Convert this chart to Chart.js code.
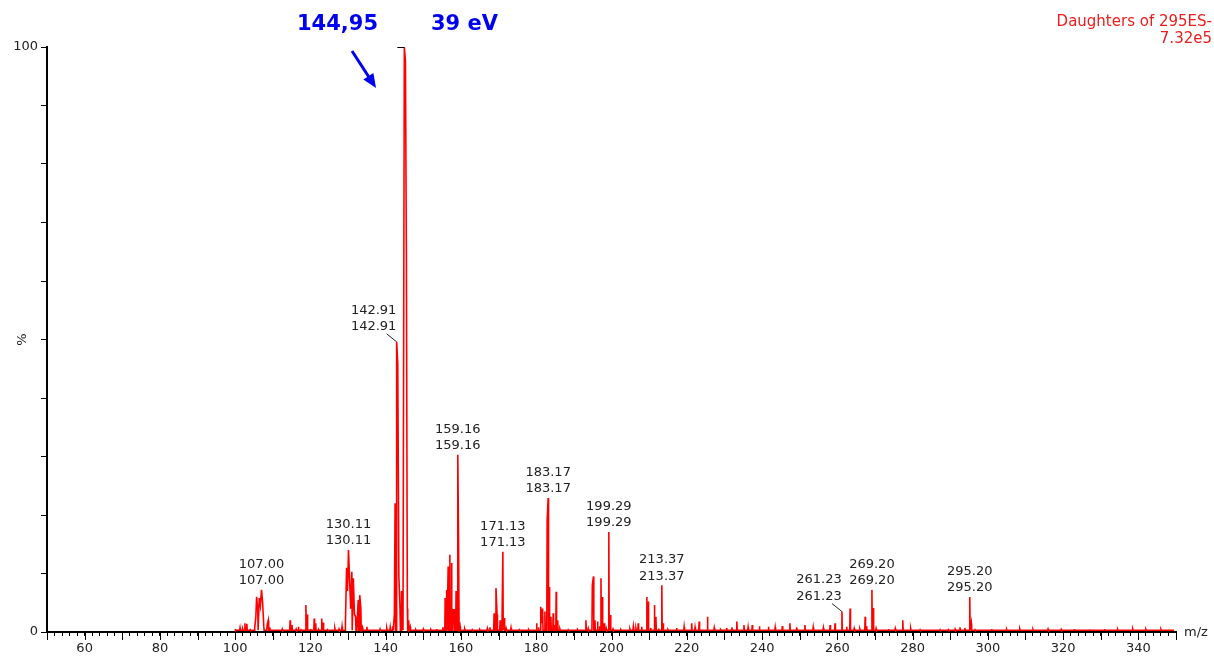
<!DOCTYPE html>
<html>
<head>
<meta charset="utf-8">
<title>Daughters of 295ES-</title>
<script src="https://cdn.jsdelivr.net/npm/chart.js@4"></script>
<style>
    html, body { margin: 0; padding: 0; background: #ffffff; }
    #spectrum { display: block; }
</style>
</head>
<body>
<canvas id="spectrum" width="1214" height="657"></canvas>

<script>
// m/z of each profile point (peaks and valleys)
const peakMz = [
    100.0, 101.3, 102.0, 102.6, 103.1, 104.0, 105.2, 105.5, 105.7, 106.0, 106.4, 106.7, 107.0, 107.3, 107.6,
    108.5, 108.8, 109.2, 111.0, 112.5, 114.6, 115.1, 116.2, 116.8, 117.5, 118.8, 119.2, 120.0, 121.0, 121.4,
    122.2, 123.0, 123.4, 124.5, 126.5, 127.6, 128.4, 129.3, 129.6, 129.85, 130.11, 130.4, 130.7, 131.0, 131.4,
    131.7, 132.0, 132.4, 132.7, 133.1, 133.4, 133.8, 135.0, 136.5, 138.5, 140.3, 141.2, 141.9, 142.3, 142.5,
    142.91, 143.2, 143.5, 143.8, 144.2, 144.5, 144.95, 145.25, 145.5, 145.75, 146.1, 146.5, 148.0, 150.0, 152.0,
    153.5, 155.2, 155.8, 156.2, 156.6, 157.05, 157.5, 157.9, 158.2, 158.7, 159.16, 159.4, 159.75, 161.0, 163.0,
    165.0, 167.0, 167.7, 168.8, 169.3, 169.6, 170.4, 170.9, 171.13, 171.5, 172.0, 173.3, 175.5, 178.0, 180.1,
    180.6, 181.2, 181.45, 181.7, 182.3, 182.9, 183.17, 183.5, 183.9, 184.5, 184.85, 185.3, 185.7, 186.3, 188.5,
    191.0, 193.2, 193.8, 194.9, 195.2, 195.6, 196.3, 196.8, 197.2, 197.6, 198.1, 198.6, 199.29, 199.7, 200.4,
    202.5, 204.9, 205.8, 206.5, 207.1, 208.0, 209.4, 209.8, 210.4, 211.4, 211.8, 212.5, 213.37, 213.7, 215.0,
    217.3, 219.3, 221.3, 222.2, 223.3, 225.5, 227.3, 229.0, 230.6, 232.0, 233.3, 235.2, 236.3, 237.4, 239.3,
    241.7, 243.5, 245.4, 247.4, 249.2, 251.4, 253.6, 256.3, 258.1, 259.4, 261.23, 262.5, 263.4, 264.5, 266.0,
    267.4, 267.8, 269.2, 269.6, 270.3, 273.6, 275.4, 277.4, 279.5, 282.0, 285.0, 287.3, 289.5, 291.3, 292.6,
    293.9, 295.2, 295.6, 296.6, 299.5, 301.0, 305.0, 308.5, 312.0, 316.0, 319.5, 323.0, 327.0, 331.0, 334.5,
    338.5, 342.0, 346.0, 349.5
];

// relative intensity (%) at each of those points
const peakPct = [
    0.5, 0.7, 0.5, 1.5, 1.4, 0.4, 0.8, 2.6, 6.0, 3.8, 5.8, 4.5, 7.2, 5.0, 1.0,
    1.2, 2.0, 0.8, 0.4, 0.5, 2.0, 1.2, 0.5, 0.9, 0.4, 4.6, 3.0, 0.5, 2.3, 1.5,
    0.4, 2.3, 1.6, 0.4, 0.6, 0.5, 0.9, 1.5, 11.0, 7.0, 14.0, 9.0, 4.0, 10.3, 9.2,
    3.0, 2.6, 1.5, 5.5, 6.3, 4.0, 0.8, 0.9, 0.4, 0.5, 0.6, 0.8, 1.0, 3.0, 22.0,
    49.6, 46.0, 9.5, 4.0, 7.0, 4.0, 100, 97.5, 64.0, 4.0, 2.0, 0.9, 0.4, 0.5, 0.4,
    0.5, 0.8, 5.8, 7.2, 11.2, 13.2, 11.8, 3.8, 3.8, 7.0, 30.3, 12.0, 1.0, 0.5, 0.4,
    0.4, 0.6, 0.8, 3.2, 7.5, 3.0, 2.0, 1.0, 13.7, 2.4, 0.6, 0.7, 0.4, 0.4, 1.5,
    0.8, 4.3, 1.5, 4.0, 3.5, 19.0, 22.9, 7.7, 2.6, 3.2, 1.2, 6.9, 2.0, 0.5, 0.4,
    0.4, 2.0, 0.6, 8.0, 9.5, 2.0, 1.8, 1.0, 9.2, 6.0, 1.5, 0.6, 17.1, 2.9, 0.5,
    0.4, 0.5, 0.9, 0.6, 1.5, 0.9, 6.0, 5.2, 0.7, 4.6, 2.6, 0.6, 8.0, 1.5, 0.4,
    0.7, 0.9, 1.5, 0.8, 1.8, 2.6, 0.7, 0.4, 0.7, 0.8, 1.8, 1.2, 0.8, 1.2, 1.0,
    0.9, 0.8, 1.0, 1.5, 0.8, 1.2, 0.8, 0.7, 1.2, 1.5, 3.5, 0.9, 4.0, 0.6, 0.5,
    2.6, 1.0, 7.2, 4.1, 0.6, 0.5, 0.6, 2.0, 0.6, 0.4, 0.4, 0.4, 0.4, 0.5, 0.8,
    0.7, 6.0, 1.5, 0.4, 0.3, 0.5, 0.45, 0.5, 0.45, 0.5, 0.45, 0.5, 0.45, 0.5, 0.45,
    0.5, 0.45, 0.45, 0.3
];

// level of the trace between peaks
const baselinePct = 0.3;

// peaks that carry an m/z annotation
const labelMz = [107.00, 130.11, 142.91, 159.16, 171.13, 183.17, 199.29, 213.37, 261.23, 269.20, 295.20];

// axis ticks
const yTickLabels = [0, 100];
const xMin = 50;
const xMax = 350;

document.addEventListener("DOMContentLoaded", function () {

    const FONT = "'DejaVu Sans', Verdana, sans-serif";

    // =========================
    // Build the profile trace
    // =========================
    // the trace drops to the baseline wherever two read points are apart
    const trace = [];
    for (let i = 0; i < peakMz.length; i++) {
        if (i > 0 && peakMz[i] - peakMz[i - 1] > 0.32) {
            trace.push({ x: peakMz[i - 1] + 0.1, y: baselinePct });
            trace.push({ x: peakMz[i] - 0.1, y: baselinePct });
        }
        trace.push({ x: peakMz[i], y: peakPct[i] });
    }

    // =========================
    // Annotations, ticks and titles
    // =========================
    const overlay = {
        id: "overlay",
        afterDraw(chart) {
            const ctx = chart.ctx;
            const x = chart.scales.x;
            const y = chart.scales.y;
            const area = chart.chartArea;

            ctx.save();

            // longer ticks every 10 on the m/z axis
            ctx.strokeStyle = "#000";
            ctx.lineWidth = 1;
            ctx.beginPath();
            for (let v = xMin; v <= xMax; v += 10) {
                const px = Math.round(x.getPixelForValue(v)) + 0.5;
                ctx.moveTo(px, area.bottom + 1);
                ctx.lineTo(px, area.bottom + 8);
            }
            ctx.stroke();

            // axis name
            ctx.fillStyle = "#222";
            ctx.font = "13px " + FONT;
            ctx.textAlign = "left";
            ctx.textBaseline = "middle";
            ctx.fillText("m/z", area.right + 8, area.bottom + 1);

            // peak labels
            ctx.font = "13px " + FONT;
            ctx.textAlign = "center";
            ctx.textBaseline = "middle";
            labelMz.forEach(function (m) {
                const idx = peakMz.findIndex(v => Math.abs(v - m) < 0.001);
                const px = x.getPixelForValue(m);
                const py = y.getPixelForValue(peakPct[idx]);
                const txt = m.toFixed(2);
                let tx = px;
                let ty = py - 9;
                if (m === 142.91 || m === 261.23) {
                    // label moved aside with a leader line
                    tx = px - 23;
                    ty = py - 15;
                    ctx.strokeStyle = "#222";
                    ctx.lineWidth = 1;
                    ctx.beginPath();
                    ctx.moveTo(px - 10, py - 8);
                    ctx.lineTo(px, py);
                    ctx.stroke();
                }
                ctx.fillStyle = "#222";
                ctx.fillText(txt, tx, ty - 16.5);
                ctx.fillText(txt, tx, ty);
            });

            // small cap on the base peak
            const basePx = x.getPixelForValue(144.95);
            const capY = Math.round(y.getPixelForValue(100)) + 0.5;
            ctx.strokeStyle = "#000";
            ctx.lineWidth = 1;
            ctx.beginPath();
            ctx.moveTo(basePx - 7, capY);
            ctx.lineTo(basePx, capY);
            ctx.stroke();

            // header, top right
            ctx.fillStyle = "#ee1c1c";
            ctx.font = "15px " + FONT;
            ctx.textAlign = "right";
            ctx.fillText("Daughters of 295ES-", 1212, 22);
            ctx.fillText("7.32e5", 1212, 39);

            // blue note over the base peak
            ctx.fillStyle = "#0000f0";
            ctx.font = "bold 21px " + FONT;
            ctx.textAlign = "left";
            ctx.fillText("144,95", 297, 25);
            ctx.fillText("39 eV", 431, 25);

            const ax0 = 352, ay0 = 51, ax1 = 376, ay1 = 88;
            const ang = Math.atan2(ay1 - ay0, ax1 - ax0);
            ctx.strokeStyle = "#0000f0";
            ctx.lineWidth = 3;
            ctx.beginPath();
            ctx.moveTo(ax0, ay0);
            ctx.lineTo(ax1 - 8 * Math.cos(ang), ay1 - 8 * Math.sin(ang));
            ctx.stroke();
            ctx.beginPath();
            ctx.moveTo(ax1, ay1);
            ctx.lineTo(ax1 - 14 * Math.cos(ang) + 6 * Math.sin(ang), ay1 - 14 * Math.sin(ang) - 6 * Math.cos(ang));
            ctx.lineTo(ax1 - 14 * Math.cos(ang) - 6 * Math.sin(ang), ay1 - 14 * Math.sin(ang) + 6 * Math.cos(ang));
            ctx.closePath();
            ctx.fill();

            ctx.restore();
        }
    };

    // =========================
    // Spectrum chart
    // =========================
    const canvas = document.getElementById("spectrum");

    new Chart(canvas, {

        type: "line",

        data: {
            datasets: [{
                label: "Daughters of 295ES-",
                data: trace,
                borderColor: "#ff0000",
                borderWidth: 1.6,
                pointRadius: 0,
                tension: 0,
                fill: false
            }]
        },

        options: {

            responsive: false,
            animation: false,
            events: [],

            layout: {
                padding: { top: 47, right: 38, bottom: 0, left: 0 }
            },

            plugins: {
                legend: { display: false },
                tooltip: { enabled: false }
            },

            scales: {
                x: {
                    type: "linear",
                    min: xMin,
                    max: xMax,
                    border: { color: "#000", width: 2 },
                    grid: {
                        drawOnChartArea: false,
                        tickLength: 4,
                        tickColor: "#000"
                    },
                    ticks: {
                        stepSize: 2,
                        autoSkip: false,
                        maxRotation: 0,
                        padding: 5,
                        color: "#222",
                        font: { family: FONT, size: 13 },
                        callback: function (v) {
                            return (v % 20 === 0 && v > xMin && v < xMax) ? v : "";
                        }
                    },
                    afterFit: function (scale) { scale.height = 25; }
                },
                y: {
                    min: 0,
                    max: 100,
                    border: { color: "#000", width: 2 },
                    grid: {
                        drawOnChartArea: false,
                        tickLength: 6,
                        tickColor: "#000"
                    },
                    ticks: {
                        stepSize: 10,
                        padding: 3,
                        color: "#222",
                        font: { family: FONT, size: 13 },
                        callback: function (v) {
                            return yTickLabels.includes(v) ? v : "";
                        }
                    },
                    title: {
                        display: true,
                        text: "%",
                        color: "#222",
                        font: { family: FONT, size: 13 },
                        padding: { top: 15, bottom: 0 }
                    },
                    afterFit: function (scale) { scale.width = 47; }
                }
            }
        },

        plugins: [overlay]
    });

});
</script>
</body>
</html>
